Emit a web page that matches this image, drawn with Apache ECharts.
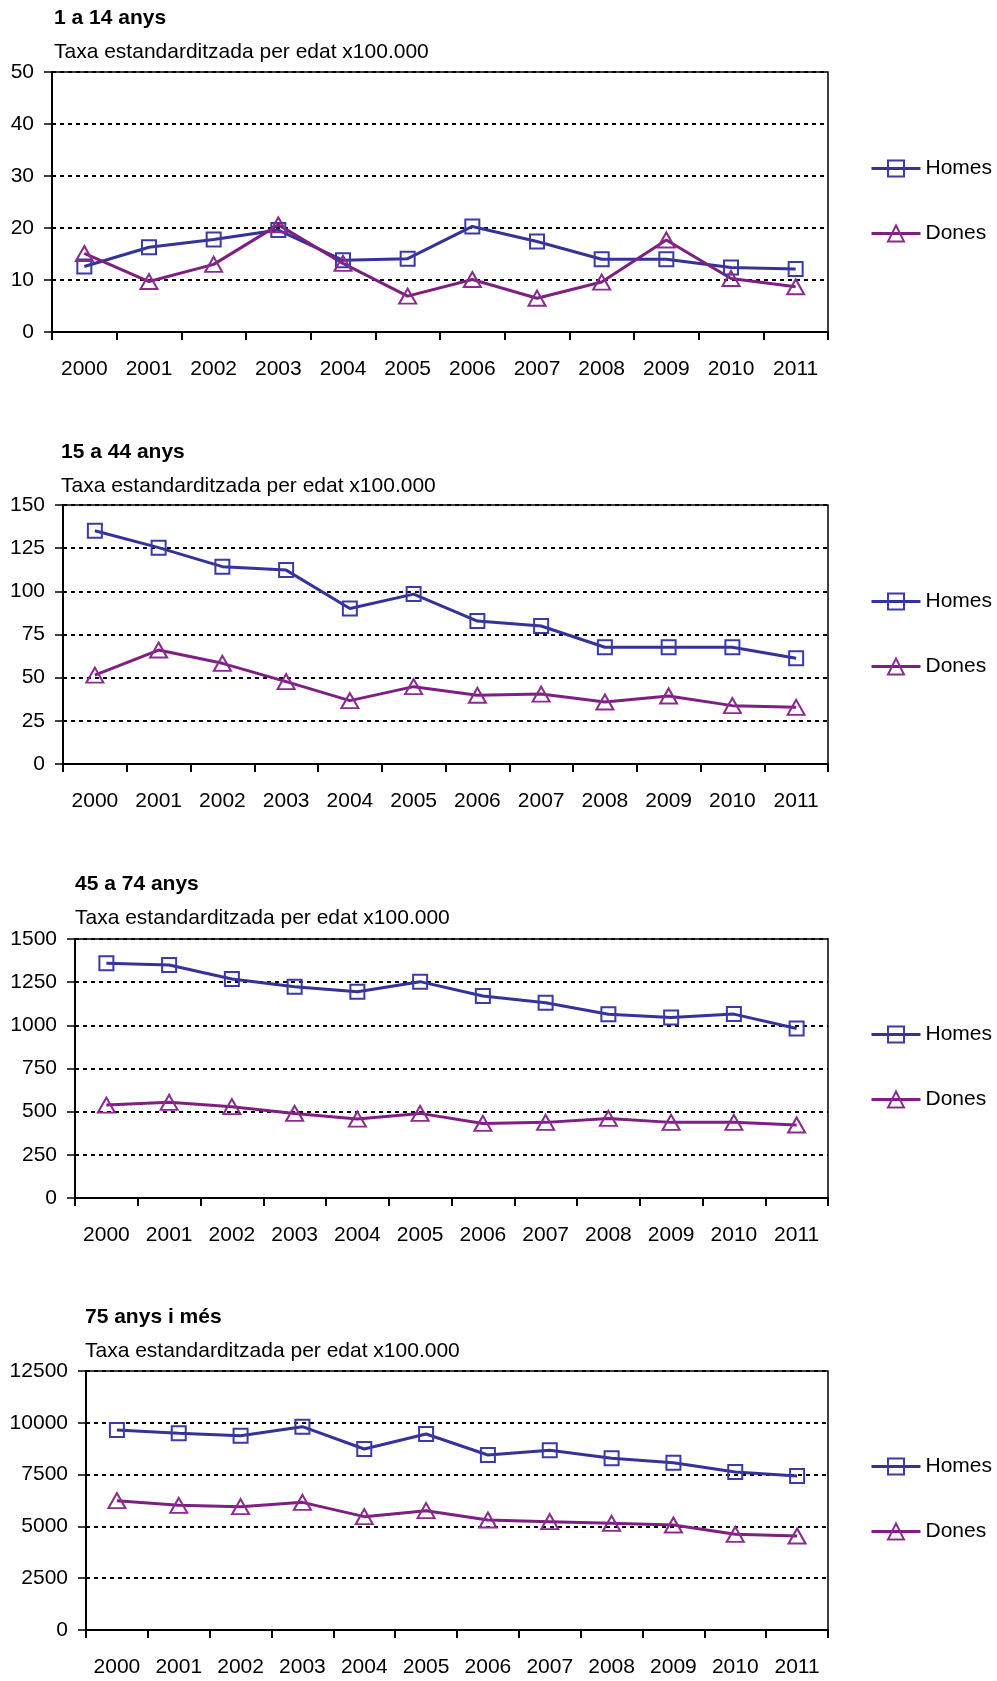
<!DOCTYPE html>
<html>
<head>
<meta charset="utf-8">
<script src="https://cdn.jsdelivr.net/npm/echarts@6/dist/echarts.min.js"></script>
<style>
  html, body { margin: 0; padding: 0; background: #fff; }
  #main { width: 997px; height: 1681px; }
</style>
</head>
<body>
<div id="main"></div>
<script>
// categories
var years = ['2000', '2001', '2002', '2003', '2004', '2005', '2006', '2007', '2008', '2009', '2010', '2011'];
var groupTitles = ['1 a 14 anys', '15 a 44 anys', '45 a 74 anys', '75 anys i més'];
var subTitle = 'Taxa estandarditzada per edat x100.000';

// series values
var homes1 = [12.6, 16.3, 17.8, 19.6, 13.8, 14.1, 20.3, 17.4, 14.0, 14.0, 12.4, 12.1];
var dones1 = [15.1, 9.7, 13.0, 20.6, 13.2, 6.9, 10.1, 6.5, 9.6, 17.7, 10.3, 8.7];
var homes2 = [135.1, 125.3, 114.3, 112.3, 90.1, 98.4, 82.8, 79.9, 67.6, 67.6, 67.6, 61.2];
var dones2 = [51.5, 66.0, 58.3, 47.7, 36.7, 44.8, 39.8, 40.5, 35.9, 39.4, 33.8, 32.8];
var homes3 = [1359, 1349, 1268, 1224, 1195, 1253, 1170, 1131, 1064, 1046, 1065, 982];
var dones3 = [538, 554, 529, 490, 457, 490, 432, 438, 461, 438, 438, 423];
var homes4 = [9653, 9492, 9379, 9813, 8735, 9459, 8446, 8671, 8285, 8076, 7625, 7432];
var dones4 = [6242, 6017, 5952, 6161, 5470, 5760, 5309, 5228, 5148, 5067, 4617, 4537];

// y axis ticks
var yMax = [50, 150, 1500, 12500];
var yStep = [10, 25, 250, 2500];

var homesData = [homes1, homes2, homes3, homes4];
var donesData = [dones1, dones2, dones3, dones4];

// layout of each panel
var panels = [
  { left: 52, top: 72, height: 260, titleLeft: 54, titleTop: 8, legendTop: 158 },
  { left: 63, top: 505, height: 259, titleLeft: 61, titleTop: 442, legendTop: 591 },
  { left: 75, top: 939, height: 259, titleLeft: 75, titleTop: 874, legendTop: 1024 },
  { left: 86, top: 1371, height: 259, titleLeft: 85, titleTop: 1307, legendTop: 1456 }
];

var FONT = '"Liberation Sans", Arial, sans-serif';
var blue = '#333399';
var purple = '#7e1f82';

var chart = echarts.init(document.getElementById('main'), null, { renderer: 'canvas' });

var option = {
  backgroundColor: '#fff',
  animation: false,
  title: [],
  legend: [],
  grid: [],
  xAxis: [],
  yAxis: [],
  series: []
};

panels.forEach(function (p, i) {
  option.title.push({
    text: groupTitles[i],
    subtext: subTitle,
    left: p.titleLeft,
    top: p.titleTop,
    padding: 0,
    itemGap: 13,
    textStyle: { fontFamily: FONT, fontSize: 21, fontWeight: 'bold', color: '#000', lineHeight: 20 },
    subtextStyle: { fontFamily: FONT, fontSize: 21, color: '#000', lineHeight: 21 }
  });
  option.legend.push({
    orient: 'vertical',
    left: 870,
    top: p.legendTop,
    padding: 0,
    itemWidth: 49,
    itemHeight: 20,
    itemGap: 44,
    data: ['Homes', 'Dones'],
    lineStyle: { width: 3 },
    textStyle: { fontFamily: FONT, fontSize: 21, color: '#000' }
  });
  option.grid.push({
    left: p.left,
    top: p.top,
    right: 169,
    height: p.height,
    show: true,
    borderColor: '#000',
    borderWidth: 1.5,
    containLabel: false
  });
  option.xAxis.push({
    type: 'category',
    gridIndex: i,
    data: years,
    boundaryGap: true,
    axisLine: { lineStyle: { color: '#000', width: 2 } },
    axisTick: { show: true, length: 8, lineStyle: { color: '#000', width: 2 } },
    axisLabel: { fontFamily: FONT, fontSize: 21, color: '#000', margin: 27, interval: 0 },
    splitLine: { show: false }
  });
  option.yAxis.push({
    type: 'value',
    gridIndex: i,
    min: 0,
    max: yMax[i],
    interval: yStep[i],
    axisLine: { show: true, lineStyle: { color: '#000', width: 2 } },
    axisTick: { show: true, length: 8, lineStyle: { color: '#000', width: 1.5 } },
    axisLabel: {
      fontFamily: FONT, fontSize: 21, color: '#000', margin: 18,
      formatter: function (v) { return String(v); }
    },
    splitLine: { show: true, lineStyle: { color: '#000', width: 2, type: [4, 4] } }
  });
  option.series.push({
    name: 'Homes',
    type: 'line',
    xAxisIndex: i,
    yAxisIndex: i,
    data: homesData[i],
    symbol: 'rect',
    symbolSize: 14,
    lineStyle: { color: blue, width: 3 },
    itemStyle: { color: 'rgba(255,255,255,0)', borderColor: '#3a3aa8', borderWidth: 2 }
  });
  option.series.push({
    name: 'Dones',
    type: 'line',
    xAxisIndex: i,
    yAxisIndex: i,
    data: donesData[i],
    symbol: 'triangle',
    symbolSize: [17, 15],
    lineStyle: { color: purple, width: 3 },
    itemStyle: { color: 'rgba(255,255,255,0)', borderColor: '#8a2c8e', borderWidth: 2 }
  });
});

chart.setOption(option);
</script>
</body>
</html>
